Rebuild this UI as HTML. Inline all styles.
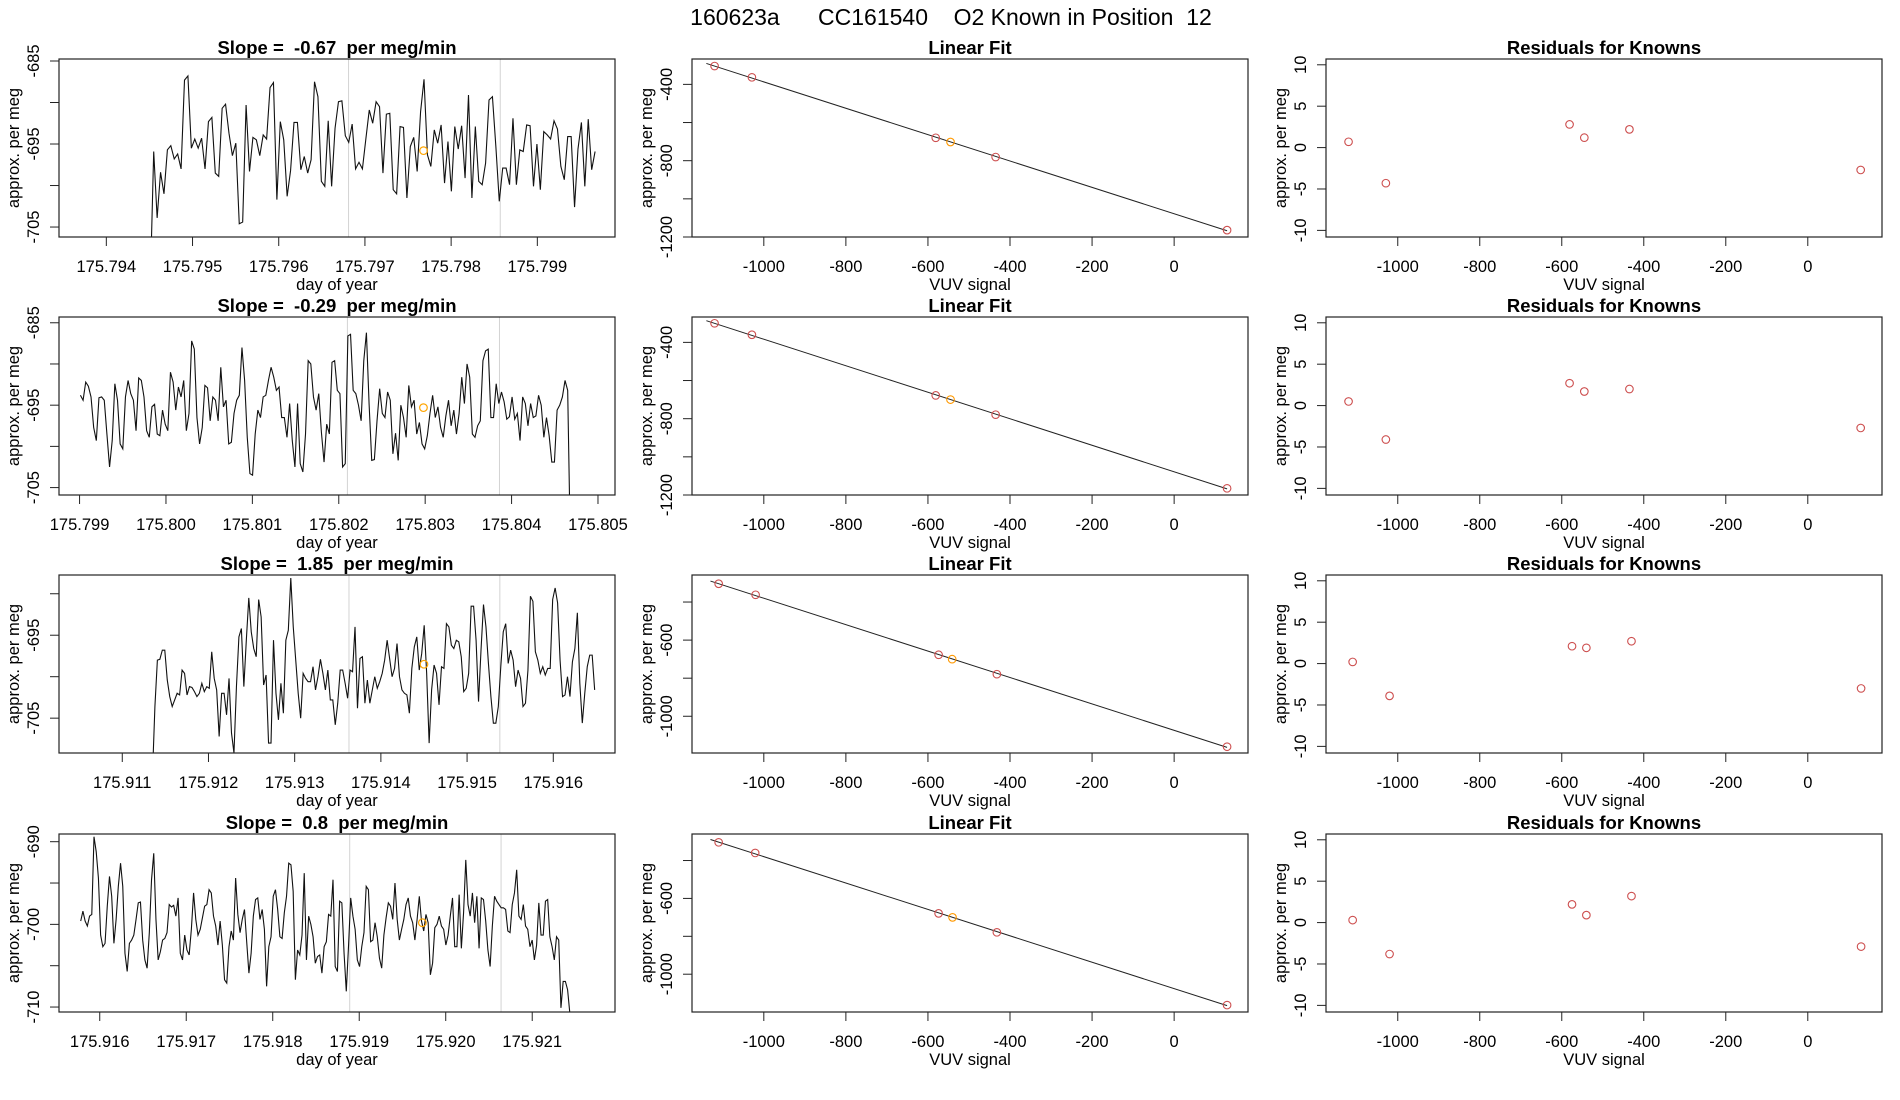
<!DOCTYPE html>
<html><head><meta charset="utf-8"><style>
html,body{margin:0;padding:0;background:#fff;}
svg{display:block;font-family:"Liberation Sans",Arial,sans-serif;}
svg text{white-space:pre;}
</style></head><body>
<svg id="chart" width="1900" height="1100" viewBox="0 0 1900 1100" xmlns="http://www.w3.org/2000/svg" xml:space="preserve">
<rect x="0" y="0" width="1900" height="1100" fill="#fff"/>
<text x="951" y="25" font-size="23" text-anchor="middle" xml:space="preserve">160623a      CC161540    O2 Known in Position  12</text>
</svg>
<script>
// ---------- data ----------
const slopeLabels = ["-0.67","-0.29","1.85","0.8"];
const tsStart = [175.79451, 175.79901, 175.91135, 175.91578];
const tsEnd   = [175.79967, 175.80468, 175.91648, 175.92146];
const ts1 = [-712,-695.9,-703.9,-698.4,-701,-695.7,-695.2,-696.8,-696.2,-698,-687.3,-686.8,-695.5,-694.4,-695.5,-694.3,-698,-692.3,-691.8,-698.5,-698.9,-690.7,-690.2,-693.7,-696.4,-694.9,-704.6,-704.4,-690.3,-698.3,-694.2,-694.5,-696.4,-693.9,-694.4,-688.2,-687.6,-701.7,-692.3,-694.5,-701.3,-698.2,-692.4,-692.4,-698.1,-696.5,-698.5,-696.9,-687.5,-689.3,-699.5,-700.1,-692.2,-700.1,-693.1,-689.9,-689.8,-694,-694.8,-692.6,-698,-697.2,-698,-694.4,-690.9,-692.5,-689.9,-690.5,-698.5,-691.4,-691.3,-700.5,-701,-692.9,-693,-701.5,-695.3,-694.2,-698.3,-691.1,-687.2,-696.3,-697.7,-693.3,-694.9,-692.7,-699.7,-694.7,-700.7,-692.9,-695.6,-692.8,-699.1,-689.1,-701.5,-692.9,-699.5,-699.9,-697.3,-689.7,-689.3,-695.3,-701.9,-697.9,-697.9,-699.9,-691.9,-699.9,-695.7,-695.9,-692.7,-692.8,-700.1,-695,-700.5,-693.5,-693.9,-694.4,-692.2,-693.2,-697.7,-699.3,-694.1,-694.1,-702.6,-695.6,-692.4,-700.1,-692,-698.1,-695.9];
const ts2 = [-693.8,-694.4,-692.2,-692.7,-694,-697.7,-699.3,-694.1,-694,-694.4,-698.5,-702.5,-699.3,-692.4,-694.4,-699.7,-700.3,-694,-692,-693.6,-694.4,-698.1,-691.7,-692,-694,-698.1,-698.9,-695.2,-694.9,-698.5,-698.7,-695.6,-697.3,-698.1,-691,-692.2,-695.6,-692.8,-694,-692,-698.1,-696,-687.2,-688.2,-696.5,-699.7,-697.7,-692.6,-692.9,-696.9,-694,-694.4,-696.9,-690.4,-695.2,-694.4,-699.7,-699.5,-696,-694.4,-693.8,-688,-692,-698.9,-703.3,-703.5,-698.5,-695.6,-696.5,-694,-693.8,-692,-690.4,-691.6,-693.2,-692.8,-696.5,-696.5,-698.9,-694.8,-699.3,-702.5,-694.8,-702.1,-703.1,-698.5,-689.6,-690,-694,-695.6,-693.6,-698.3,-701.9,-697.3,-698.5,-689.8,-689.6,-693.2,-693.6,-702.5,-702.1,-686.6,-686.4,-693.2,-693.6,-695,-696.9,-689.6,-686.2,-694.8,-701.7,-701.6,-696.9,-693,-696,-696.5,-693.4,-694.4,-700.9,-698.4,-701.7,-695,-696.5,-698.9,-692.6,-695.2,-694.4,-698.5,-697.1,-699.7,-700.3,-698.7,-696,-693.8,-696.5,-695.2,-697.7,-698.9,-696.3,-694.4,-697.5,-695.6,-698.5,-696,-691.6,-694.8,-690,-691.6,-698.5,-698.9,-697.5,-696.9,-689.6,-688.4,-688.2,-696.5,-696.5,-692.4,-694.8,-693.4,-694.6,-696.7,-696.4,-694,-696.7,-696,-699.3,-694,-694.8,-697.5,-694.8,-696.5,-696.3,-693.8,-695,-698.9,-696.5,-698.7,-701.9,-701.9,-695.6,-695,-694,-692,-693.2,-712];
const ts3 = [-712,-703.6,-698,-697.9,-696.8,-696.8,-700.4,-702.4,-703.6,-702.8,-702,-702.2,-699.2,-699.6,-702.2,-701.2,-701.3,-701.8,-702.4,-702,-700.8,-701.8,-701.2,-701.4,-697,-700.2,-701.6,-707.2,-702,-702,-704.6,-700.2,-706.8,-709.2,-701.2,-695.2,-694.2,-701.2,-695.6,-690.5,-694.6,-696.6,-697.6,-690.7,-692.8,-701,-699.8,-708,-708,-695.6,-702,-705.2,-700.8,-704.4,-695.6,-694.4,-688.1,-694,-698,-702,-705,-699.6,-700.2,-700.6,-700.6,-698.8,-701.6,-700,-697.9,-699.6,-701.6,-699.2,-702.8,-702.8,-705.8,-703.2,-699.2,-699.2,-700.8,-702.6,-699.2,-699.4,-694,-703.8,-697.8,-697.6,-703.2,-700.4,-703.2,-701.6,-700,-701.4,-700.6,-699.6,-698,-695.6,-697.8,-700,-699,-696,-700,-701.6,-702,-702.2,-704.4,-699,-696.4,-695.2,-699.2,-697.2,-693.8,-699.6,-708,-701.6,-698.6,-699.6,-703.4,-698.8,-699,-693.6,-694,-696.2,-696.6,-695.6,-695.8,-697.6,-701.8,-701.4,-699.6,-691.5,-691.5,-695.6,-703,-696.8,-691.3,-694,-698.4,-702.4,-705.6,-705.6,-703.6,-698.8,-694.6,-693.6,-698.4,-696.8,-698,-701.2,-699.2,-700.2,-703.6,-703.2,-699.2,-690.3,-690.9,-697,-698,-699.6,-698.8,-699.8,-699,-699,-690.7,-689.3,-691.1,-698,-702.4,-702.2,-700,-702.4,-698.2,-696.6,-692.3,-700.8,-705.6,-702,-698.8,-697.4,-697.4,-701.6];
const ts4 = [-699.6,-698.4,-699.6,-700.2,-699,-698.8,-689.4,-691.2,-694.4,-701.3,-702.7,-702.3,-697.8,-694.2,-696.6,-702.3,-699.4,-695.4,-692.6,-695.4,-703.5,-705.7,-702.3,-701.9,-701.3,-699.4,-697.4,-697.3,-701.9,-704.3,-705.3,-701,-694.6,-691.4,-699.4,-704.3,-703.3,-701.9,-701.7,-701,-697.6,-697.9,-697.7,-699,-696.8,-703.5,-704.3,-701.3,-703.1,-703.7,-700.6,-696.2,-699.4,-701.3,-700.6,-699.2,-697.8,-697.6,-695.8,-696.2,-699,-700.2,-702.5,-699.6,-702.5,-706.7,-707.1,-702.7,-700.8,-701.9,-694.4,-698.8,-701,-699.4,-698.2,-702.1,-705.9,-703.5,-699,-697,-696.8,-699.4,-698.2,-700.6,-707.5,-702.7,-701.5,-696.6,-695.8,-698.2,-701.5,-701.7,-698.6,-696.6,-692.6,-692.8,-696,-706.7,-703.1,-703.7,-701.3,-693.8,-704.3,-699,-700,-701.5,-704.7,-703.9,-703.7,-705.9,-702.7,-702.1,-698.8,-699,-694.6,-705.1,-705.7,-697.2,-697.4,-703.5,-708.1,-702.7,-696.8,-699,-700.6,-704.3,-705.1,-702.7,-701,-695.4,-695.8,-702.1,-701.9,-699.8,-701.5,-704.1,-705.3,-701.3,-699.2,-697.4,-697.8,-699.4,-695,-699.4,-701.9,-700.6,-699.4,-697.6,-696.8,-699,-699.8,-701.9,-699.4,-696.6,-699.6,-700.8,-698.8,-699.8,-706.1,-704.7,-700.4,-700,-699,-700.2,-700.6,-702.5,-701.3,-699,-696.8,-702.7,-702.7,-696.4,-702.9,-698.6,-692.2,-697.6,-699,-696.2,-699.8,-696.6,-702.9,-696.8,-697,-699.6,-703.1,-705.1,-700.2,-696.6,-697.2,-697.6,-698,-698,-698.2,-700.8,-701,-697.6,-696.2,-693.4,-699,-699.4,-697.6,-700.2,-700.6,-702.7,-701.9,-704.3,-702.5,-697.4,-701.3,-701.3,-697.2,-697,-701.5,-702.7,-704.3,-701.5,-701.9,-710.1,-706.9,-706.9,-707.9,-710.7,-715];
const tsSeries = [ts1, ts2, ts3, ts4];
const tsXmin = [175.793451, 175.798762, 175.910266, 175.915529];
const tsXmax = [175.799901, 175.805197, 175.916716, 175.921957];
const tsYmin = [-706.2, -705.9, -709.2, -710.6];
const tsYmax = [-684.76, -684.3, -687.74, -689.07];
const tsXTicks = [
  ["175.794","175.795","175.796","175.797","175.798","175.799"],
  ["175.799","175.800","175.801","175.802","175.803","175.804","175.805"],
  ["175.911","175.912","175.913","175.914","175.915","175.916"],
  ["175.916","175.917","175.918","175.919","175.920","175.921"]];
const tsYTicks = [[-685,-690,-695,-700,-705],[-685,-690,-695,-700,-705],[-690,-695,-700,-705],[-690,-695,-700,-705,-710]];
const tsYLabels = [[-685,-695,-705],[-685,-695,-705],[-695,-705],[-690,-700,-710]];
const grayLines = [[175.79681,175.79857],[175.8021,175.80386],[175.91363,175.91538],[175.91889,175.92064]];
const markerX = [175.79768, 175.80298, 175.91450, 175.91973];
const markerY = [-695.8, -695.3, -698.5, -699.8];

const fitX = [
  [-1120,-1029,-581,-545,-435,129],
  [-1120,-1029,-581,-545,-435,129],
  [-1110,-1020,-574,-541,-432,129],
  [-1110,-1021,-574,-540,-432,129]];
const fitY = [
  [-304,-363,-680,-702,-781,-1164],
  [-300,-360,-678,-700,-779,-1165],
  [-304,-362,-677,-700,-779,-1160],
  [-304,-360,-679,-700,-779,-1163]];
const fitOrangeIndex = 3;
const fitYmin = [-1200,-1200,-1193,-1199.5];
const fitYmax = [-267,-267,-258,-260];
const fitYTicks = [[-400,-600,-800,-1000,-1200],[-400,-600,-800,-1000,-1200],[-400,-600,-800,-1000],[-400,-600,-800,-1000]];
const fitYLabels = [[-400,-800,-1200],[-400,-800,-1200],[-600,-1000],[-600,-1000]];
const vuvTicks = [-1000,-800,-600,-400,-200,0];

const resX = [
  [-1120,-1029,-581,-545,-435,129],
  [-1120,-1029,-581,-545,-435,129],
  [-1110,-1020,-575,-540,-430,130],
  [-1110,-1020,-575,-540,-430,130]];
const resY = [
  [0.7,-4.3,2.8,1.2,2.2,-2.7],
  [0.5,-4.1,2.7,1.7,2.0,-2.7],
  [0.2,-3.9,2.1,1.9,2.7,-3.0],
  [0.3,-3.8,2.2,0.9,3.2,-2.9]];
const resTicks = [-10,-5,0,5,10];

// ---------- layout ----------
const NS = "http://www.w3.org/2000/svg";
const svg = document.getElementById("chart");
const rowTop = [59, 317, 575, 834];
const boxH = 178;
const colLeft = [59, 692, 1326];
const boxW = 556;

function mk(tag, attrs, parent) {
  const e = document.createElementNS(NS, tag);
  for (const k in attrs) e.setAttribute(k, attrs[k]);
  (parent || svg).appendChild(e);
  return e;
}
function lin(d0, d1, r0, r1) { return v => r0 + (v - d0) * (r1 - r0) / (d1 - d0); }

function frame(g, L, T, title, xlab, name) {
  const b = mk("rect", {x: L, y: T, width: boxW, height: boxH, fill: "none", stroke: "#222", "stroke-width": 1.2}, g);
  
  
  const t = mk("text", {x: L + boxW / 2, y: T - 5, "font-size": 18.5, "font-weight": "bold", "text-anchor": "middle"}, g);
  t.textContent = title;
  
  
  const xl = mk("text", {x: L + boxW / 2, y: T + boxH + 53, "font-size": 16.5, "text-anchor": "middle"}, g);
  xl.textContent = xlab;
  
  
  const yl = mk("text", {transform: `translate(${L - 40},${T + boxH / 2}) rotate(-90)`, "font-size": 16.5, "text-anchor": "middle"}, g);
  yl.textContent = "approx. per meg";
  
  
}
function xAxis(g, L, T, sx, ticks, labels, name) {
  ticks.forEach((v, i) => {
    const px = sx(v);
    const tk = mk("line", {x1: px, x2: px, y1: T + boxH, y2: T + boxH + 9, stroke: "#222", "stroke-width": 1}, g);
    
    
    const tl = mk("text", {x: px, y: T + boxH + 35, "font-size": 16.5, "text-anchor": "middle"}, g);
    tl.textContent = labels[i];
    
    
  });
}
function yAxis(g, L, sy, ticks, labels, name) {
  ticks.forEach(v => {
    const py = sy(v);
    const tk = mk("line", {x1: L - 9, x2: L, y1: py, y2: py, stroke: "#222", "stroke-width": 1}, g);
    
    
  });
  labels.forEach(v => {
    const py = sy(v);
    const tl = mk("text", {transform: `translate(${L - 20},${py}) rotate(-90)`, "font-size": 16.5, "text-anchor": "middle"}, g);
    tl.textContent = String(v);
    
    
  });
}
function clip(id, L, T) {
  const cp = mk("clipPath", {id: id});
  mk("rect", {x: L, y: T, width: boxW, height: boxH}, cp);
}

for (let r = 0; r < 4; r++) {
  const T = rowTop[r];
  // ---- time series ----
  {
    const L = colLeft[0];
    const name = "timeseries-" + (r + 1);
    const g = mk("g", {});
    
    
    const sx = lin(tsXmin[r], tsXmax[r], L, L + boxW);
    const sy = lin(tsYmin[r], tsYmax[r], T + boxH, T);
    clip("c" + r, L, T);
    grayLines[r].forEach(v => {
      const gl = mk("line", {x1: sx(v), x2: sx(v), y1: T, y2: T + boxH, stroke: "#d3d3d3", "stroke-width": 1}, g);
      
      
    });
    const vals = tsSeries[r];
    const n = vals.length;
    const dt = (tsEnd[r] - tsStart[r]) / (n - 1);
    const pts = vals.map((v, i) => sx(tsStart[r] + i * dt).toFixed(2) + "," + sy(v).toFixed(2)).join(" ");
    const pl = mk("polyline", {points: pts, fill: "none", stroke: "#111", "stroke-width": 1.1, "clip-path": `url(#c${r})`}, g);
    
    
    const mc = mk("circle", {cx: sx(markerX[r]), cy: sy(markerY[r]), r: 3.8, fill: "none", stroke: "#ffa500", "stroke-width": 1.2}, g);
    
    
    frame(g, L, T, `Slope =  ${slopeLabels[r]}  per meg/min`, "day of year", name);
    xAxis(g, L, T, sx, tsXTicks[r].map(Number), tsXTicks[r], name);
    yAxis(g, L, sy, tsYTicks[r], tsYLabels[r], name);
  }
  // ---- linear fit ----
  {
    const L = colLeft[1];
    const name = "linear-fit-" + (r + 1);
    const g = mk("g", {});
    
    
    const sx = lin(-1175, 180, L, L + boxW);
    const sy = lin(fitYmin[r], fitYmax[r], T + boxH, T);
    const xs = fitX[r], ys = fitY[r];
    const n = xs.length;
    const mx = xs.reduce((a, b) => a + b, 0) / n, my = ys.reduce((a, b) => a + b, 0) / n;
    let sxy = 0, sxx = 0;
    for (let i = 0; i < n; i++) { sxy += (xs[i] - mx) * (ys[i] - my); sxx += (xs[i] - mx) ** 2; }
    const b = sxy / sxx, a = my - b * mx;
    const x0 = Math.min(...xs) - 20, x1 = Math.max(...xs);
    const fl = mk("line", {x1: sx(x0), y1: sy(a + b * x0), x2: sx(x1), y2: sy(a + b * x1), stroke: "#222", "stroke-width": 1}, g);
    
    
    xs.forEach((xv, i) => {
      const c = mk("circle", {cx: sx(xv), cy: sy(ys[i]), r: 3.8, fill: "none", stroke: i === fitOrangeIndex ? "#ff9900" : "#cd4f4f", "stroke-width": 1.1}, g);
      
      
    });
    frame(g, L, T, "Linear Fit", "VUV signal", name);
    xAxis(g, L, T, sx, vuvTicks, vuvTicks.map(String), name);
    yAxis(g, L, sy, fitYTicks[r], fitYLabels[r], name);
  }
  // ---- residuals ----
  {
    const L = colLeft[2];
    const name = "residuals-" + (r + 1);
    const g = mk("g", {});
    
    
    const sx = lin(-1175, 181, L, L + boxW);
    const sy = lin(-10.8, 10.7, T + boxH, T);
    resX[r].forEach((xv, i) => {
      const c = mk("circle", {cx: sx(xv), cy: sy(resY[r][i]), r: 3.8, fill: "none", stroke: "#cd4f4f", "stroke-width": 1.1}, g);
      
      
    });
    frame(g, L, T, "Residuals for Knowns", "VUV signal", name);
    xAxis(g, L, T, sx, vuvTicks, vuvTicks.map(String), name);
    yAxis(g, L, sy, resTicks, resTicks, name);
  }
}
</script>
</body></html>
